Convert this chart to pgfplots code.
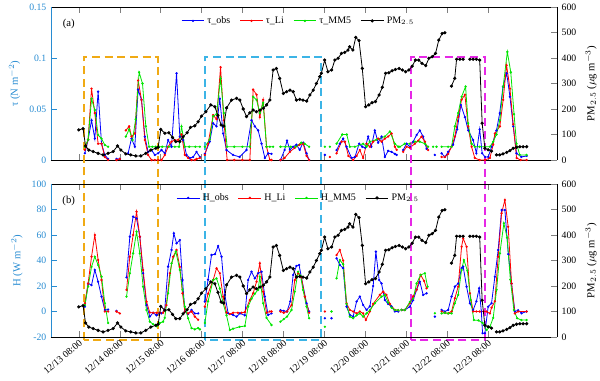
\documentclass[border=0pt]{standalone}
\usepackage{pgfplots}
\usepackage{pgfplotstable}
\usepackage{fontspec}
\setmainfont{Liberation Serif}
\pgfplotsset{compat=1.18}

\definecolor{leftblue}{RGB}{40,140,210}
\definecolor{mmgreen}{RGB}{0,230,0}
\definecolor{boxorange}{RGB}{240,170,20}
\definecolor{boxcyan}{RGB}{60,180,230}
\definecolor{boxmag}{RGB}{230,40,230}

% x = days since 12/13 08:00
\pgfplotstableread{
x y
0 118
0.105 123
0.164 55
0.244 39
0.350 33
0.472 26
0.594 20
0.716 26
0.839 33
0.946 55
1.027 39
1.149 24
1.271 20
1.394 16
1.516 16
1.638 26
1.760 39
1.883 46
1.939 50
2.005 120
2.103 105
2.200 107
2.291 89
2.372 72
2.469 72
2.550 91
2.648 107
2.731 128
2.836 134
2.917 150
3.000 172
3.105 189
3.227 216
3.325 209
3.400 175
3.480 137
3.545 133
3.611 204
3.733 235
3.856 242
3.937 235
4.020 200
4.100 170
4.180 185
4.260 196
4.340 189
4.430 196
4.510 203
4.590 216
4.670 235
4.750 353
4.830 359
4.910 320
5.000 261
5.080 268
5.160 274
5.240 268
5.320 235
5.400 238
5.480 235
5.570 231
5.650 255
5.730 274
5.810 300
5.890 327
5.930 340
6.010 392
6.090 346
6.180 353
6.260 392
6.340 399
6.420 418
6.500 422
6.580 431
6.620 444
6.700 431
6.770 481
6.850 468
6.930 359
7.010 209
7.090 216
7.170 225
7.250 229
7.340 255
7.420 285
7.500 340
7.580 342
7.660 350
7.740 355
7.830 359
7.910 353
7.990 346
8.070 353
8.150 368
8.230 392
8.310 392
8.390 379
8.480 370
8.560 399
8.640 405
8.720 418
8.800 470
8.880 496
8.950 499
9.000 nan
9.110 290
9.190 320
9.235 395
9.315 395
9.396 395
9.480 nan
9.560 395
9.640 395
9.720 395
9.800 392
9.860 144
9.927 46
10.007 40
10.090 35
10.150 nan
10.210 20
10.290 20
10.370 24
10.460 30
10.540 37
10.620 46
10.700 50
10.780 52
10.860 52
10.950 52
}\pmdata

\pgfplotstableread{
x y
0.147 0.0066
0.227 0.0196
0.311 0.039
0.391 0.021
0.472 0.067
0.555 0.016
0.636 0.005
0.716 0.001
0.800 nan
0.922 0.001
1.002 0.001
1.100 nan
1.205 0.0066
1.288 0.021
1.369 0.013
1.450 0.069
1.533 0.059
1.614 0.023
1.694 0.008
1.778 0.0098
1.858 0.005
1.939 0.0066
2.022 0.0098
2.103 0.0066
2.183 0.0196
2.267 0.013
2.389 0.085
2.469 0.023
2.550 0.0196
2.633 0.005
2.714 0.002
2.795 0.003
2.878 0.008
2.960 0.003
3.020 nan
3.081 0.006
3.200 0.018
3.284 0.036
3.367 0.033
3.447 0.060
3.528 0.026
3.611 0.0098
3.770 0.005
3.930 0.003
4.100 0.0098
4.222 0.039
4.303 0.033
4.384 0.029
4.467 0.016
4.548 0.002
4.630 0.0066
4.711 0.006
4.830 nan
4.930 0.000
5.030 0.0098
5.090 0.019
5.160 0.010
5.240 0.013
5.320 0.015
5.400 0.010
5.484 0.017
5.567 0.0066
5.630 0.000
5.800 nan
6.015 0.005
6.100 nan
6.301 0.0098
6.381 0.016
6.462 0.021
6.545 0.013
6.667 0.002
6.750 0.003
6.853 0.016
6.930 0.013
7.000 0.012
7.073 0.023
7.150 0.013
7.237 0.029
7.318 0.017
7.401 0.023
7.482 0.003
7.562 0.009
7.645 0.008
7.726 0.006
7.770 0.005
7.850 nan
7.929 0.0098
8.012 0.016
8.093 0.013
8.174 0.018
8.257 0.0245
8.337 0.029
8.418 0.023
8.501 0.011
8.600 nan
8.704 0.005
8.780 nan
8.868 0.0066
8.950 0.003
9.030 0.008
9.150 0.015
9.250 0.030
9.340 0.054
9.440 0.042
9.520 0.029
9.640 0.0196
9.720 0.0066
9.800 0.030
9.860 0.0066
9.930 0.003
10.010 0.003
10.090 0.013
10.210 0.029
10.290 0.046
10.370 0.072
10.460 0.085
10.540 0.062
10.620 0.033
10.700 0.0066
10.820 0.003
10.950 0.004
}\tauobs

\pgfplotstableread{
x y
0.147 0.010
0.227 0.020
0.311 0.070
0.391 0.046
0.472 0.016
0.555 0.016
0.636 0.003
0.716 0.000
0.800 nan
0.922 0.000
1.002 0.001
1.080 nan
1.149 0.029
1.230 0.033
1.288 0.023
1.369 0.026
1.450 0.078
1.533 0.059
1.614 0.0196
1.694 0.005
1.778 0.000
1.858 0.000
1.939 0.000
2.022 0.000
2.103 0.005
2.183 0.013
2.267 0.018
2.347 0.0196
2.428 0.0196
2.511 0.025
2.592 0.005
2.672 0.002
2.755 0.000
2.836 0.000
2.878 0.001
2.960 0.002
3.020 nan
3.081 0.005
3.161 0.016
3.284 0.044
3.367 0.040
3.465 0.091
3.545 0.039
3.626 0.000
3.800 0.000
4.000 0.000
4.181 0.000
4.262 0.069
4.345 0.064
4.425 0.042
4.506 0.059
4.589 0.013
4.670 0.000
4.711 0.000
4.800 nan
4.930 0.000
5.030 0.002
5.160 0.008
5.280 0.012
5.400 0.015
5.484 0.016
5.567 0.004
5.630 0.000
5.800 nan
6.137 0.003
6.200 nan
6.301 0.0066
6.423 0.018
6.505 0.018
6.590 0.004
6.707 0.000
6.790 0.004
6.870 0.0098
6.951 0.002
7.034 0.016
7.115 0.013
7.196 0.018
7.318 0.021
7.401 0.018
7.482 0.021
7.562 0.023
7.645 0.026
7.726 0.013
7.770 0.010
7.850 nan
7.929 0.008
8.012 0.013
8.093 0.012
8.215 0.016
8.297 0.019
8.378 0.023
8.460 0.018
8.540 0.0098
8.700 nan
8.868 0.003
8.950 0.003
9.030 0.006
9.112 0.013
9.193 0.023
9.274 0.042
9.357 0.059
9.438 0.064
9.518 0.033
9.601 0.013
9.680 0.002
9.800 0.000
9.930 0.000
10.050 0.002
10.130 0.015
10.171 0.026
10.293 0.033
10.374 0.059
10.457 0.093
10.540 0.070
10.620 0.035
10.702 0.002
10.800 0.000
10.946 0.000
}\tauli

\pgfplotstableread{
x y
0.147 0.013
0.227 0.020
0.311 0.060
0.391 0.049
0.472 0.0245
0.555 0.021
0.636 0.0147
0.716 0.013
0.800 nan
1.149 0.023
1.230 0.030
1.313 0.0196
1.390 0.040
1.474 0.086
1.557 0.075
1.638 0.033
1.719 0.013
1.800 0.013
1.880 0.013
1.960 0.013
2.040 0.013
2.200 0.013
2.350 0.013
2.450 0.013
2.511 0.033
2.592 0.013
2.700 0.013
2.850 0.013
2.960 0.013
3.020 nan
3.081 0.013
3.200 0.020
3.284 0.043
3.367 0.045
3.465 0.080
3.545 0.046
3.626 0.013
3.800 0.013
4.000 0.013
4.180 0.013
4.262 0.062
4.345 0.059
4.425 0.046
4.506 0.056
4.589 0.013
4.670 0.013
4.750 0.013
4.830 nan
4.930 0.013
5.050 0.013
5.180 0.013
5.300 0.013
5.440 0.017
5.520 0.016
5.630 0.013
5.800 nan
6.015 0.013
6.080 nan
6.137 0.013
6.200 nan
6.301 0.016
6.440 0.025
6.550 0.025
6.626 0.013
6.750 0.013
6.950 0.016
7.034 0.013
7.115 0.018
7.278 0.020
7.482 0.023
7.604 0.028
7.726 0.016
7.810 0.013
7.830 nan
7.850 0.013
7.970 0.016
8.093 0.016
8.215 0.018
8.337 0.018
8.460 0.016
8.540 0.013
8.600 nan
8.663 0.013
8.700 nan
8.745 0.013
8.800 nan
8.868 0.013
9.030 0.013
9.112 0.013
9.193 0.033
9.274 0.046
9.357 0.062
9.455 0.072
9.518 0.036
9.601 0.016
9.682 0.013
9.800 0.013
9.930 0.013
10.050 0.013
10.130 0.018
10.210 0.025
10.293 0.039
10.374 0.072
10.476 0.106
10.560 0.086
10.640 0.045
10.700 0.016
10.780 0.005
10.946 0.005
}\taumm

\pgfplotstableread{
x y
0.147 3.8
0.227 22
0.311 20.7
0.391 32.6
0.472 23.4
0.555 11.6
0.636 1.2
0.716 1.5
0.800 nan
0.922 0.5
1.000 nan
1.166 26.8
1.247 58.7
1.328 74.4
1.411 73
1.491 58.7
1.572 30
1.655 5
1.736 -4
1.818 -1
1.900 -3
1.980 -1
2.022 -1.5
2.100 1.2
2.183 35.2
2.267 48.3
2.323 61.3
2.389 53.5
2.469 56
2.535 24.7
2.592 0
2.672 -2
2.755 1.2
2.836 -1.5
2.917 -1.5
3.000 nan
3.081 7.8
3.160 25
3.244 44.3
3.330 45
3.406 51.4
3.489 43
3.570 13
3.650 -1.4
3.770 -2.7
3.856 -4
3.940 -1.5
4.059 -3
4.139 24.7
4.222 31.2
4.303 26
4.384 30
4.467 31.2
4.548 11.7
4.628 -2.7
4.711 -1.5
4.800 nan
4.930 1
5.010 0.5
5.090 0
5.170 8
5.240 28.7
5.320 35.7
5.385 36.5
5.440 27
5.567 6.5
5.630 0
5.800 nan
6.015 -5.3
6.100 nan
6.178 -5.3
6.240 nan
6.301 41.7
6.381 36.5
6.462 34
6.545 3.8
6.626 -2.7
6.707 -4
6.790 7.8
6.870 11.7
6.951 5.1
7.034 1.2
7.115 4
7.196 20
7.262 47
7.342 24.7
7.400 22
7.482 9
7.562 6
7.645 4
7.726 0
7.810 0
7.850 nan
7.890 1.2
7.970 1.2
8.093 3.8
8.174 9
8.257 17
8.337 23.4
8.418 13
8.501 14.3
8.600 nan
8.704 -4
8.780 nan
8.868 1.2
8.950 0
9.030 1.2
9.112 11.7
9.193 19.5
9.274 22
9.357 34
9.396 35.2
9.479 19.5
9.560 6.5
9.641 1.2
9.720 8
9.787 18.2
9.840 0
9.870 -17
9.927 -17
10.007 3.8
10.090 6.5
10.171 27.3
10.252 48.3
10.335 79.6
10.416 79.6
10.500 45
10.579 22
10.660 0
10.741 1
10.824 -1.4
10.946 0
}\hobs

\pgfplotstableread{
x y
0.147 6.5
0.227 22
0.311 43
0.391 60
0.472 40.4
0.555 24.7
0.636 0
0.716 0
0.800 nan
0.922 0
1.002 -1.5
1.080 nan
1.166 16.9
1.247 43
1.328 60
1.411 78.3
1.491 58.7
1.572 32.6
1.655 7.7
1.736 -0.8
1.818 -1
1.900 -1
1.980 -1
2.060 -1
2.140 5
2.225 30
2.306 43
2.389 48.3
2.469 35
2.535 14.3
2.592 0
2.672 -1.5
2.755 0
2.836 -4
2.917 -6.5
3.000 nan
3.081 3.8
3.160 14
3.284 24.7
3.367 33.9
3.447 30
3.528 11.7
3.611 -0.8
3.690 -2
3.770 -1
3.890 -1
3.980 -1
4.060 -0.5
4.180 9
4.262 14.3
4.345 23.4
4.425 37.8
4.506 15.6
4.589 -1
4.670 0
4.711 0
4.800 nan
4.930 0
5.010 -1
5.090 0
5.200 5
5.280 24.7
5.360 30
5.440 27
5.526 11.7
5.630 -1
5.800 nan
6.015 0
6.100 nan
6.240 nan
6.301 44.3
6.381 48.3
6.462 40
6.545 6.5
6.626 1.2
6.707 0
6.790 -1.5
6.870 0
6.951 -1.5
7.017 -6.7
7.115 0
7.196 6
7.359 13
7.440 15.6
7.520 13
7.604 6
7.726 1.2
7.810 1
7.850 nan
7.890 1.2
7.970 1.2
8.093 6.5
8.174 12
8.257 17
8.355 28.7
8.440 24
8.501 18.2
8.700 nan
8.868 0
8.950 -1
9.030 -1.5
9.112 0
9.193 10.4
9.274 19.5
9.357 50.8
9.396 57.4
9.479 50.8
9.560 14.3
9.641 0
9.720 0
9.800 0
9.900 0
9.968 0
10.050 -1.5
10.090 3
10.171 8
10.252 43
10.335 77
10.416 87.5
10.496 66.5
10.579 22
10.660 -1.5
10.741 0
10.946 0
}\hli

\pgfplotstableread{
x y
0.147 5
0.227 19.6
0.311 35
0.391 43
0.472 36.5
0.555 27.3
0.636 6.5
0.716 -9
0.800 nan
1.166 11.7
1.247 30
1.328 45.6
1.411 62.6
1.491 45.6
1.572 19.5
1.655 1.2
1.736 -8
1.818 -10
1.900 -11.5
1.980 -9
2.060 -8
2.100 -5
2.183 14.3
2.267 37.8
2.372 47
2.469 32.6
2.535 17
2.592 3.8
2.672 -5.3
2.755 -13
2.836 -14
2.917 -13
2.960 -14
3.020 nan
3.081 -9
3.160 8
3.284 24.7
3.367 26
3.447 18
3.528 6.5
3.611 -3
3.692 -14.5
3.770 -13.5
3.930 -12
4.059 -11.4
4.139 3.8
4.222 10
4.303 14
4.384 17
4.425 27.3
4.506 6.5
4.589 -5
4.711 -10.6
4.800 nan
4.930 -8
5.010 -6
5.090 -4
5.200 1.2
5.280 15.6
5.360 31.2
5.420 28
5.480 17
5.567 3.8
5.630 -5.3
5.800 nan
6.015 -12
6.100 nan
6.178 0
6.240 nan
6.301 26
6.381 40.4
6.462 37
6.545 6
6.626 -4
6.707 -5.3
6.790 -3
6.870 -1.5
6.951 -4
7.034 -1.5
7.115 1
7.237 6.5
7.401 11.7
7.482 13
7.562 7
7.645 3
7.726 1.2
7.810 1
7.850 nan
7.890 1.2
7.970 1.2
8.093 7.5
8.174 10
8.257 22
8.355 28.7
8.460 30
8.526 19.5
8.600 nan
8.704 -1.4
8.780 nan
8.868 -1.5
8.950 -1
9.030 -1.5
9.112 -1.5
9.193 6.5
9.274 13
9.357 32.6
9.413 40.4
9.500 32
9.580 9
9.658 -6.7
9.770 -7
9.870 -9
9.968 -14.5
10.050 -12
10.130 -5
10.213 17
10.293 45.6
10.391 69.2
10.470 58
10.550 25
10.636 1.2
10.716 -5.3
10.820 -6.7
10.946 -6.7
}\hmm

\tikzset{boxdash/.style={line width=1.4pt, dash pattern=on 6pt off 3.5pt}}

\pgfplotsset{
  panel/.style={
    scale only axis, width=379.5pt, height=114.75pt,
    xmin=-0.68, xmax=11.69, xtick={0,1,...,10},
    unbounded coords=jump, tick align=inside,
    tick label style={font=\fontsize{7.3}{8}\selectfont},
    label style={font=\fontsize{8}{9}\selectfont},
    /pgf/number format/assume math mode=true,
  },
  leftax/.style={panel, axis y line*=left,
    y axis line style={leftblue}, ytick style={leftblue},
    yticklabel style={text=leftblue}, ylabel style={text=leftblue}},
  rightax/.style={panel, axis y line*=right, axis x line=none,
    ymin=0, ymax=600, ytick={0,100,...,600}},
  obs/.style={blue, line width=0.6pt, mark=*, mark size=0.55pt},
  li/.style={red, line width=0.6pt, mark=*, mark size=0.55pt},
  mm/.style={mmgreen, line width=0.6pt, mark=*, mark size=0.55pt},
  pmst/.style={black, line width=0.6pt, mark=*, mark size=0.9pt},
  leg/.style={legend style={at={(0.49,0.975)}, anchor=north, draw=none, fill=none,
    legend columns=4, font=\fontsize{7.5}{8}\selectfont,
    /tikz/every even column/.append style={column sep=5pt}}},
}

\begin{document}
\begin{tikzpicture}
% ---- panel (a)
\begin{axis}[leftax, at={(0,0)}, anchor=north west,
  ymin=0, ymax=0.15, ytick={0,0.05,0.1,0.15}, yticklabels={0,0.05,0.1,0.15},
  xticklabels={}, ylabel={τ (N m$^{-2}$)}, clip=false]
\addplot[obs] table {\tauobs};
\addplot[li] table {\tauli};
\addplot[mm] table {\taumm};
\node[font=\fontsize{8}{9}\selectfont] at (rel axis cs:0.035,0.89) {(a)};
\draw[boxorange, boxdash] (axis cs:0.12,-0.1765) rectangle (axis cs:1.93,0.101);
\draw[boxcyan, boxdash] (axis cs:3.08,-0.1765) rectangle (axis cs:5.92,0.101);
\draw[boxmag, boxdash] (axis cs:8.12,-0.1765) rectangle (axis cs:9.93,0.101);
\end{axis}
\begin{axis}[rightax, leg, at={(0,0)}, anchor=north west,
  ylabel={PM$_{2.5}$ ($\mu$g m$^{-3}$)}]
\addlegendimage{obs}\addlegendentry{τ\_obs}
\addlegendimage{li}\addlegendentry{τ\_Li}
\addlegendimage{mm}\addlegendentry{τ\_MM5}
\addplot[pmst] table {\pmdata};
\addlegendentry{PM$_{2.5}$}
\end{axis}
% ---- panel (b)
\begin{axis}[leftax, at={(0,-132.75pt)}, anchor=north west,
  ymin=-20, ymax=100, ytick={-20,0,...,100}, yticklabels={-20,0,20,40,60,80,100},
  xticklabels={12/13 08:00,12/14 08:00,12/15 08:00,12/16 08:00,12/17 08:00,12/18 08:00,12/19 08:00,12/20 08:00,12/21 08:00,12/22 08:00,12/23 08:00},
  xticklabel style={rotate=40, anchor=north east, inner sep=1pt},
  ylabel={H (W m$^{-2}$)}]
\addplot[obs] table {\hobs};
\addplot[li] table {\hli};
\addplot[mm] table {\hmm};
\node[font=\fontsize{8}{9}\selectfont] at (rel axis cs:0.035,0.89) {(b)};
\end{axis}
\begin{axis}[rightax, leg, at={(0,-132.75pt)}, anchor=north west,
  ylabel={PM$_{2.5}$ ($\mu$g m$^{-3}$)}]
\addlegendimage{obs}\addlegendentry{H\_obs}
\addlegendimage{li}\addlegendentry{H\_Li}
\addlegendimage{mm}\addlegendentry{H\_MM5}
\addplot[pmst] table {\pmdata};
\addlegendentry{PM$_{2.5}$}
\end{axis}
\pgfresetboundingbox
\useasboundingbox (-38.25pt,5.25pt) rectangle (411.75pt,-279.75pt);
\end{tikzpicture}
\end{document}
